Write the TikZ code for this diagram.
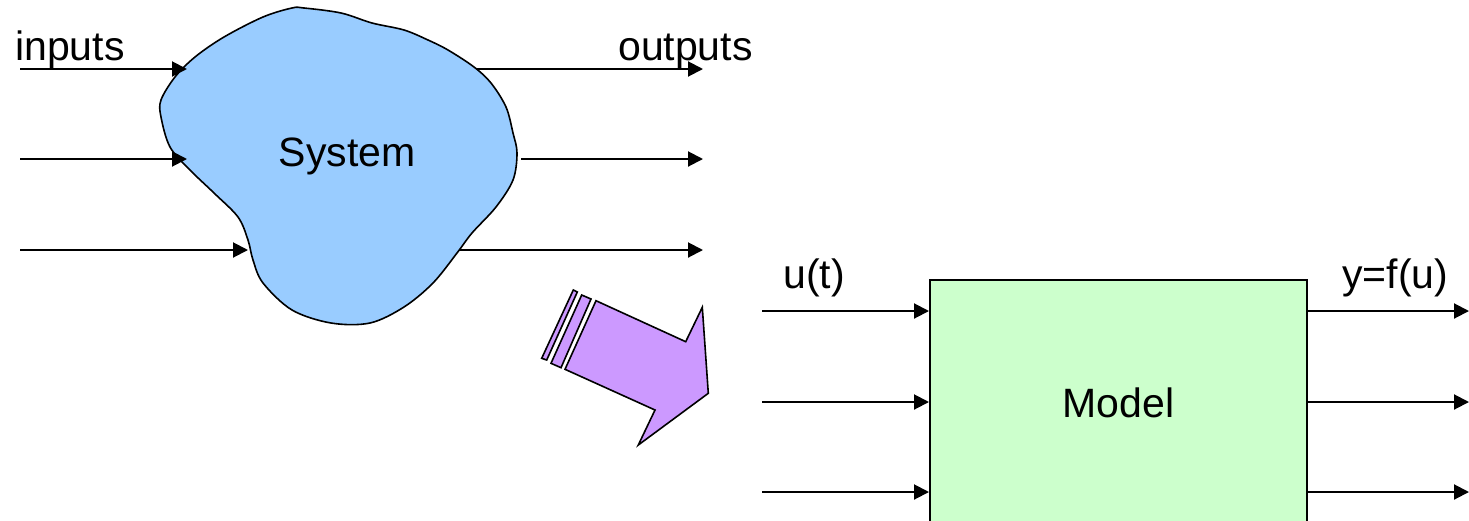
\documentclass[tikz,border=0pt]{standalone}
\usepackage{fontspec}
\setmainfont{Liberation Sans}
\usetikzlibrary{arrows.meta}
\definecolor{blobblue}{HTML}{99CCFF}
\definecolor{boxgreen}{HTML}{CCFFCC}
\definecolor{arrpurple}{HTML}{CC99FF}
\begin{document}
\begin{tikzpicture}[x=1pt,y=-1pt,
  arr/.style={line width=2pt,-{Triangle[length=15pt,width=15pt]}},
  lbl/.style={anchor=base west,inner sep=0pt,font=\fontsize{41}{48}\selectfont},
  modelbox/.style={draw,line width=2pt,fill=boxgreen,minimum width=377pt,minimum height=245pt,inner sep=0pt,font=\fontsize{41}{48}\selectfont},
  blobline/.style={draw,line width=1.6pt,fill=blobblue,line join=round},
  bigarrow/.style={draw,line width=1.6pt,fill=arrpurple,line join=miter}]
\useasboundingbox (0,0) rectangle (1469,520);
\clip (0,0) rectangle (1469,520);
% system blob
\draw[blobline] plot[smooth cycle,tension=0.55] coordinates {
 (304,8) (341,13) (372,23) (404,30) (428,40) (448,50) (474,67) (491,83)
 (506,107) (513,133) (517,153) (513,180) (496,207) (472,233) (457,253)
 (433,283) (404,307) (370,323) (331,323) (292,310) (263,283) (253,260)
 (248,240) (238,217) (214,193) (190,170) (170,147) (161,117) (161,100)
 (175,77) (195,57) (224,37) (263,17) (292,8)};
\node[lbl,anchor=base] (sys) at (347,166) {System};
% input/output coordinates
\coordinate (i1s) at (20,69);  \coordinate (i1e) at (187,69);
\coordinate (i2s) at (20,159); \coordinate (i2e) at (187,159);
\coordinate (i3s) at (20,250); \coordinate (i3e) at (248,250);
\coordinate (o1s) at (476,69);  \coordinate (o1e) at (703,69);
\coordinate (o2s) at (521,159); \coordinate (o2e) at (703,159);
\coordinate (o3s) at (459,250); \coordinate (o3e) at (703,250);
\draw[arr] (i1s) -- (i1e);
\draw[arr] (i2s) -- (i2e);
\draw[arr] (i3s) -- (i3e);
\draw[arr] (o1s) -- (o1e);
\draw[arr] (o2s) -- (o2e);
\draw[arr] (o3s) -- (o3e);
\node[lbl] (inputs) at (15,60) {inputs};
\node[lbl] (outputs) at (618,60) {outputs};
% purple arrow
\draw[bigarrow] (596,300.7) -- (685.7,341.7) -- (702.3,307.3) -- (708.3,393.3)
  -- (638.3,445) -- (655,410) -- (565,369.3) -- cycle;
\draw[bigarrow] (581.7,295) -- (591,299) -- (561,367.7) -- (551,363.3) -- cycle;
\draw[bigarrow] (573.3,290) -- (577.3,292) -- (546.7,360) -- (541.7,358.3) -- cycle;
% model
\node[modelbox] (model) at (1118.5,402.5) {Model};
\coordinate (mi1) at (762,311); \coordinate (mi2) at (762,402); \coordinate (mi3) at (762,492);
\coordinate (mo1) at (1469,311); \coordinate (mo2) at (1469,402); \coordinate (mo3) at (1469,492);
\draw[arr] (mi1) -- (model.west |- mi1);
\draw[arr] (mi2) -- (model.west |- mi2);
\draw[arr] (mi3) -- (model.west |- mi3);
\draw[arr] (model.east |- mo1) -- (mo1);
\draw[arr] (model.east |- mo2) -- (mo2);
\draw[arr] (model.east |- mo3) -- (mo3);
\node[lbl] (ut) at (783,288) {u(t)};
\node[lbl] (yfu) at (1342,288) {y=f(u)};
\end{tikzpicture}
\end{document}
